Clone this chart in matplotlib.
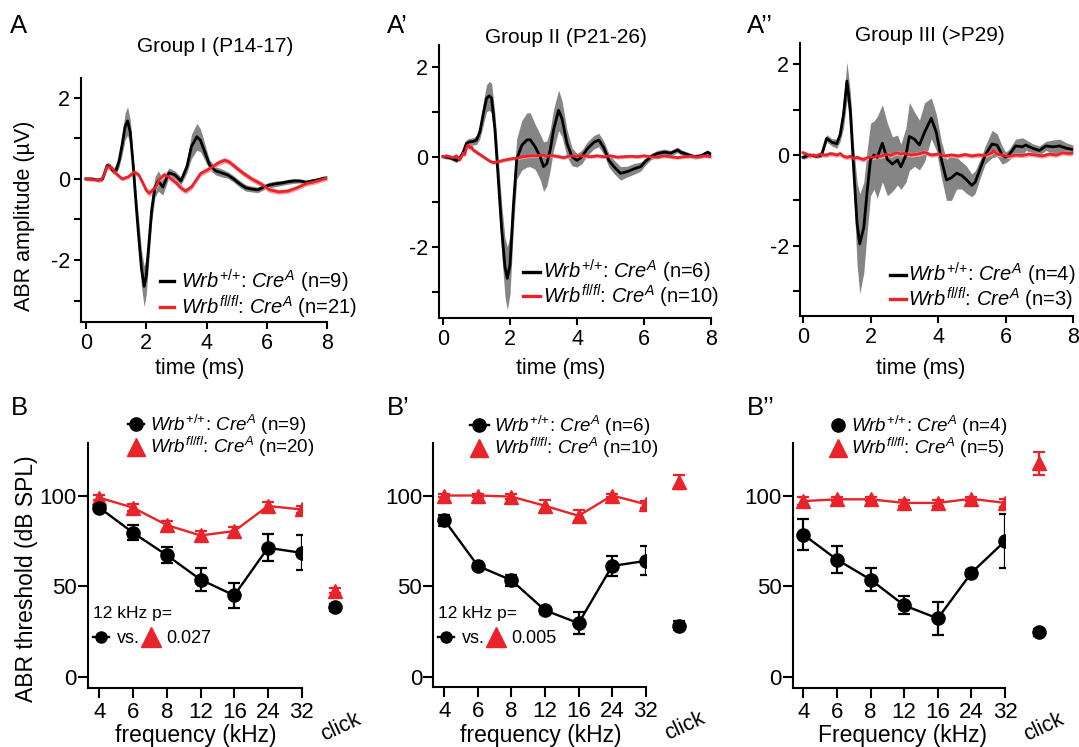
"""
ABR waveforms (top row) and ABR thresholds (bottom row) for the three age groups,
Wrb+/+: CreA controls vs Wrb fl/fl: CreA mutants.
"""

import numpy as np
import matplotlib.pyplot as plt
from matplotlib.lines import Line2D
from matplotlib.transforms import blended_transform_factory

plt.rcParams['font.family'] = ['Liberation Sans', 'DejaVu Sans']
plt.rcParams['mathtext.fontset'] = 'custom'
plt.rcParams['mathtext.rm'] = 'Liberation Sans'
plt.rcParams['mathtext.it'] = 'Liberation Sans:italic'
plt.rcParams['mathtext.bf'] = 'Liberation Sans:bold'

RED = '#e8232a'
GREY_BAND = '#858585'
PINK_BAND = '#f3a3a5'

# ---------------------------------------------------------------- waveform data
# rows are (time ms, mean amplitude uV, sem uV)
wave_ctrl_1 = [
    (0.0, 0.0, 0.04), (0.2, 0.0, 0.04), (0.4, -0.03, 0.04), (0.55, 0.0, 0.05),
    (0.7, 0.33, 0.08), (0.8, 0.3, 0.08), (0.9, 0.2, 0.08), (1.0, 0.22, 0.1),
    (1.1, 0.45, 0.15), (1.2, 0.85, 0.25), (1.3, 1.3, 0.33), (1.38, 1.43, 0.35),
    (1.47, 1.15, 0.3), (1.57, 0.3, 0.25), (1.66, -0.6, 0.3), (1.74, -1.35, 0.4),
    (1.84, -2.2, 0.45), (1.93, -2.65, 0.5), (2.0, -2.4, 0.45), (2.07, -1.76, 0.4),
    (2.18, -0.77, 0.3), (2.29, -0.2, 0.25), (2.4, -0.05, 0.25), (2.55, -0.2, 0.2),
    (2.75, 0.15, 0.12), (2.95, 0.1, 0.1), (3.15, -0.05, 0.1), (3.35, 0.3, 0.15),
    (3.5, 0.8, 0.3), (3.68, 1.04, 0.33), (3.8, 0.95, 0.28), (3.95, 0.65, 0.2),
    (4.1, 0.35, 0.12), (4.3, 0.2, 0.1), (4.5, 0.15, 0.1), (4.7, 0.1, 0.08),
    (4.9, 0.0, 0.08), (5.1, -0.12, 0.08), (5.3, -0.22, 0.08), (5.5, -0.25, 0.07),
    (5.7, -0.27, 0.07), (5.9, -0.2, 0.07), (6.1, -0.15, 0.07), (6.3, -0.12, 0.07),
    (6.5, -0.1, 0.06), (6.7, -0.07, 0.06), (6.9, -0.05, 0.06), (7.1, -0.05, 0.05),
    (7.3, -0.08, 0.05), (7.5, -0.05, 0.05), (7.7, -0.02, 0.05), (7.9, 0.02, 0.05),
    (8.0, 0.02, 0.05),
]
wave_ko_1 = [
    (0.0, 0.0, 0.04), (0.25, -0.02, 0.04), (0.5, -0.03, 0.05), (0.6, 0.1, 0.06),
    (0.7, 0.3, 0.07), (0.85, 0.28, 0.07), (1.0, 0.13, 0.06), (1.2, 0.0, 0.05),
    (1.4, 0.05, 0.05), (1.6, 0.17, 0.06), (1.75, 0.1, 0.06), (1.9, -0.12, 0.07),
    (2.0, -0.28, 0.08), (2.1, -0.35, 0.08), (2.3, -0.22, 0.08), (2.45, 0.0, 0.08),
    (2.6, 0.1, 0.08), (2.75, 0.05, 0.07), (3.0, -0.1, 0.07), (3.15, -0.22, 0.07),
    (3.3, -0.3, 0.07), (3.5, -0.2, 0.07), (3.8, 0.13, 0.07), (4.1, 0.25, 0.07),
    (4.4, 0.4, 0.07), (4.6, 0.46, 0.07), (4.75, 0.42, 0.07), (4.9, 0.33, 0.07),
    (5.2, 0.15, 0.07), (5.5, 0.0, 0.07), (5.8, -0.12, 0.07), (6.1, -0.27, 0.07),
    (6.4, -0.32, 0.06), (6.7, -0.3, 0.06), (7.0, -0.22, 0.06), (7.3, -0.12, 0.06),
    (7.6, -0.07, 0.06), (7.9, 0.0, 0.06), (8.0, 0.03, 0.06),
]

wave_ctrl_2 = [
    (0.0, 0.0, 0.04), (0.2, -0.02, 0.04), (0.4, -0.08, 0.05), (0.5, -0.03, 0.05),
    (0.6, 0.1, 0.07), (0.7, 0.3, 0.08), (0.8, 0.33, 0.08), (0.9, 0.34, 0.08),
    (1.0, 0.37, 0.1), (1.1, 0.55, 0.15), (1.2, 0.95, 0.25), (1.3, 1.3, 0.3),
    (1.38, 1.35, 0.32), (1.45, 1.3, 0.33), (1.55, 0.6, 0.35), (1.65, -0.5, 0.45),
    (1.75, -1.6, 0.55), (1.85, -2.45, 0.65), (1.92, -2.7, 0.7), (2.0, -2.4, 0.65),
    (2.1, -1.1, 0.5), (2.2, -0.05, 0.45), (2.35, 0.25, 0.55), (2.5, 0.37, 0.6),
    (2.6, 0.38, 0.6), (2.75, 0.22, 0.5), (2.9, 0.0, 0.5), (3.0, -0.22, 0.55),
    (3.1, -0.15, 0.5), (3.2, 0.15, 0.45), (3.3, 0.6, 0.45), (3.45, 1.03, 0.45),
    (3.55, 0.85, 0.4), (3.7, 0.3, 0.3), (3.85, 0.0, 0.2), (4.0, -0.08, 0.15),
    (4.15, 0.0, 0.15), (4.3, 0.17, 0.15), (4.5, 0.32, 0.15), (4.65, 0.37, 0.15),
    (4.8, 0.2, 0.15), (4.95, -0.08, 0.15), (5.1, -0.22, 0.15), (5.3, -0.37, 0.15),
    (5.5, -0.33, 0.12), (5.7, -0.27, 0.12), (5.9, -0.22, 0.1), (6.05, -0.1, 0.08),
    (6.2, 0.0, 0.07), (6.4, 0.07, 0.07), (6.6, 0.1, 0.07), (6.8, 0.08, 0.06),
    (7.0, 0.15, 0.06), (7.1, 0.1, 0.06), (7.3, 0.05, 0.05), (7.5, 0.0, 0.05),
    (7.7, 0.02, 0.05), (7.9, 0.1, 0.05), (8.0, 0.05, 0.05),
]
wave_ko_2 = [
    (0.0, 0.0, 0.04), (0.1, 0.02, 0.04), (0.2, 0.0, 0.04), (0.3, -0.02, 0.04),
    (0.4, 0.02, 0.04), (0.5, -0.07, 0.04), (0.55, 0.0, 0.04), (0.6, 0.08, 0.05),
    (0.65, 0.05, 0.05), (0.7, 0.2, 0.06), (0.75, 0.26, 0.06), (0.8, 0.2, 0.06),
    (0.85, 0.22, 0.06), (0.9, 0.15, 0.05), (1.0, 0.1, 0.05), (1.1, 0.05, 0.04),
    (1.2, 0.0, 0.04), (1.3, -0.05, 0.04), (1.4, -0.1, 0.04), (1.5, -0.13, 0.04),
    (1.6, -0.12, 0.04), (1.7, -0.1, 0.04), (1.8, -0.08, 0.04), (2.0, -0.05, 0.04),
    (2.2, -0.03, 0.04), (2.4, 0.0, 0.04), (2.6, 0.02, 0.04), (2.8, 0.02, 0.04),
    (3.0, 0.04, 0.04), (3.1, 0.0, 0.04), (3.2, 0.03, 0.04), (3.4, 0.01, 0.04),
    (3.6, -0.02, 0.04), (3.8, 0.02, 0.04), (4.0, 0.01, 0.04), (4.2, 0.02, 0.04),
    (4.4, 0.0, 0.04), (4.6, 0.02, 0.04), (4.8, 0.0, 0.04), (5.0, 0.02, 0.04),
    (5.2, -0.01, 0.04), (5.4, 0.0, 0.04), (5.6, 0.01, 0.04), (5.8, 0.0, 0.04),
    (6.0, 0.02, 0.04), (6.2, 0.0, 0.04), (6.4, -0.01, 0.04), (6.6, 0.02, 0.04),
    (6.8, 0.0, 0.04), (7.0, -0.02, 0.04), (7.2, 0.0, 0.04), (7.4, 0.01, 0.04),
    (7.6, -0.01, 0.04), (7.8, 0.02, 0.04), (8.0, 0.0, 0.04),
]

wave_ctrl_3 = [
    (0.0, -0.05, 0.05), (0.2, 0.0, 0.04), (0.4, -0.03, 0.04), (0.55, 0.0, 0.05),
    (0.7, 0.37, 0.08), (0.85, 0.28, 0.08), (1.0, 0.25, 0.1), (1.1, 0.45, 0.15),
    (1.2, 0.9, 0.3), (1.3, 1.63, 0.42), (1.4, 1.0, 0.4), (1.5, -0.3, 0.5),
    (1.6, -1.5, 0.9), (1.68, -1.96, 1.1), (1.8, -1.6, 1.0), (1.9, -0.8, 0.9),
    (2.0, -0.1, 0.8), (2.1, 0.0, 0.75), (2.2, -0.05, 0.9), (2.35, 0.26, 0.85),
    (2.5, -0.1, 0.8), (2.65, -0.2, 0.6), (2.8, -0.11, 0.55), (2.9, -0.26, 0.5),
    (3.05, 0.0, 0.6), (3.15, 0.41, 0.75), (3.3, 0.35, 0.6), (3.45, 0.22, 0.55),
    (3.6, 0.5, 0.65), (3.8, 0.81, 0.45), (3.95, 0.5, 0.4), (4.1, -0.1, 0.4),
    (4.25, -0.55, 0.45), (4.4, -0.5, 0.5), (4.55, -0.4, 0.35), (4.7, -0.45, 0.3),
    (4.85, -0.55, 0.3), (5.0, -0.67, 0.25), (5.1, -0.6, 0.25), (5.25, -0.3, 0.2),
    (5.4, 0.0, 0.2), (5.6, 0.24, 0.3), (5.75, 0.22, 0.25), (5.9, 0.0, 0.2),
    (6.0, -0.05, 0.12), (6.1, 0.0, 0.12), (6.3, 0.2, 0.15), (6.5, 0.18, 0.2),
    (6.6, 0.22, 0.12), (6.8, 0.15, 0.1), (7.0, 0.1, 0.1), (7.2, 0.2, 0.1),
    (7.4, 0.18, 0.15), (7.6, 0.2, 0.15), (7.8, 0.15, 0.12), (8.0, 0.12, 0.1),
]
wave_ko_3 = [
    (0.0, 0.05, 0.05), (0.1, 0.02, 0.05), (0.2, -0.02, 0.05), (0.3, 0.0, 0.05),
    (0.4, -0.02, 0.05), (0.5, 0.02, 0.05), (0.6, 0.0, 0.05), (0.7, 0.0, 0.05),
    (0.8, 0.03, 0.05), (0.9, 0.02, 0.05), (1.0, 0.0, 0.05), (1.1, 0.03, 0.05),
    (1.2, -0.03, 0.05), (1.3, -0.05, 0.05), (1.4, -0.03, 0.05), (1.5, -0.08, 0.05),
    (1.6, -0.05, 0.05), (1.7, -0.08, 0.05), (1.8, -0.1, 0.05), (1.9, -0.06, 0.05),
    (2.0, -0.04, 0.05), (2.1, -0.05, 0.05), (2.2, -0.02, 0.05), (2.3, -0.03, 0.05),
    (2.4, 0.0, 0.05), (2.5, 0.02, 0.05), (2.6, -0.01, 0.05), (2.7, 0.03, 0.05),
    (2.8, 0.05, 0.05), (2.9, 0.02, 0.05), (3.0, 0.04, 0.05), (3.2, 0.0, 0.05),
    (3.4, 0.02, 0.05), (3.6, 0.06, 0.05), (3.7, 0.03, 0.05), (3.8, 0.0, 0.05),
    (4.0, 0.02, 0.05), (4.2, -0.02, 0.05), (4.4, 0.0, 0.05), (4.6, -0.02, 0.05),
    (4.8, 0.01, 0.05), (5.0, -0.02, 0.05), (5.2, 0.0, 0.05), (5.4, -0.01, 0.05),
    (5.6, 0.05, 0.05), (5.65, 0.1, 0.05), (5.75, 0.02, 0.05), (5.9, 0.0, 0.05),
    (6.1, -0.03, 0.05), (6.3, 0.0, 0.05), (6.5, -0.01, 0.05), (6.7, 0.02, 0.05),
    (6.9, 0.0, 0.05), (7.1, -0.02, 0.05), (7.3, 0.02, 0.05), (7.5, 0.0, 0.05),
    (7.7, 0.05, 0.05), (7.9, 0.03, 0.05), (8.0, 0.05, 0.05),
]

# ---------------------------------------------------------------- threshold data
freq_labels = ['4', '6', '8', '12', '16', '24', '32']

thr_ctrl_1 = [93.4, 79.6, 67.2, 53.8, 45.1, 71.3, 68.5]
thr_ctrl_1_sem = [1.5, 4.0, 4.3, 6.2, 7.0, 7.4, 9.7]
thr_ko_1 = [98.9, 93.4, 83.8, 78.1, 80.5, 94.3, 92.4]
thr_ko_1_sem = [1.5, 2.0, 2.5, 2.5, 2.5, 2.0, 2.0]
click_1 = {'ctrl': (38.5, 2.0), 'ko': (47.7, 1.5)}

thr_ctrl_2 = [86.4, 61.1, 53.2, 36.6, 29.5, 61.1, 63.9]
thr_ctrl_2_sem = [3.0, 1.5, 3.0, 2.0, 6.0, 5.5, 8.0]
thr_ko_2 = [100.0, 100.0, 99.4, 94.3, 88.8, 100.0, 95.2]
thr_ko_2_sem = [1.0, 1.0, 1.5, 3.0, 3.0, 1.0, 2.0]
click_2 = {'ctrl': (28.0, 2.5), 'ko': (107.5, 3.7)}

thr_ctrl_3 = [78.6, 64.8, 53.8, 39.6, 32.4, 57.5, 75.0]
thr_ctrl_3_sem = [8.3, 7.4, 6.4, 5.0, 9.0, 1.5, 14.7]
thr_ko_3 = [97.0, 98.0, 98.0, 96.0, 96.0, 98.3, 96.0]
thr_ko_3_sem = [2.0, 1.0, 1.0, 1.5, 1.5, 1.0, 2.0]
click_3 = {'ctrl': (24.7, 2.0), 'ko': (117.8, 6.4)}

n_wave = [(9, 21), (6, 10), (4, 3)]
n_thr = [(9, 20), (6, 10), (4, 5)]
p_12khz = ['0.027', '0.005', None]


def ctrl_label(n):
    return r'$\mathit{Wrb}^{\mathrm{+/{+}}}$: $\mathit{Cre}^{\mathit{A}}$' + f' (n={n})'


def ko_label(n):
    return r'$\mathit{Wrb}^{\mathit{fl/fl}}$: $\mathit{Cre}^{\mathit{A}}$' + f' (n={n})'


# ---------------------------------------------------------------- layout helpers
W, H = 1079, 747
fig = plt.figure(figsize=(W / 100, H / 100), dpi=100)


def box(x0, y0, x1, y1):
    # pixel box (top-left origin) -> figure fraction rect
    return [x0 / W, 1 - y1 / H, (x1 - x0) / W, (y1 - y0) / H]


def fp(x, y):
    return x / W, 1 - y / H


def style_axes(ax, size):
    for side in ('top', 'right'):
        ax.spines[side].set_visible(False)
    for side in ('left', 'bottom'):
        ax.spines[side].set_linewidth(1.5)
    ax.tick_params(width=1.5, length=5, labelsize=size, pad=3)


# ---------------------------------------------------------------- top row
top_boxes = [(81, 78, 327, 322), (439, 45, 711, 318), (800, 43, 1073, 316)]
top_xlims = [(-0.166, 8), (-0.12, 8), (-0.09, 8)]
top_ylims = [(-3.53, 2.49), (-3.58, 2.48), (-3.55, 2.47)]
waves = [(wave_ctrl_1, wave_ko_1), (wave_ctrl_2, wave_ko_2), (wave_ctrl_3, wave_ko_3)]
titles = ['Group I (P14-17)', 'Group II (P21-26)', 'Group III (>P29)']
title_pos = [(215, 52), (566, 43), (930, 41)]
xlabel_pos = [(200, 374), (561, 374), (921, 374)]
top_leg = [((160, 294), 0.7, 0.36, -0.05), ((523, 284), 0.85, 0.15, -0.12),
           ((890, 287), 0.8, 0.08, -0.12)]

for i in range(3):
    ax = fig.add_axes(box(*top_boxes[i]))
    ctrl, ko = waves[i]
    t, m, s = np.array(ctrl).T
    ax.fill_between(t, m - s, m + s, color=GREY_BAND, lw=0)
    ax.plot(t, m, color='black', lw=2.0)
    t, m, s = np.array(ko).T
    ax.fill_between(t, m - s, m + s, color=PINK_BAND, lw=0)
    ax.plot(t, m, color=RED, lw=2.0)

    ax.set_xlim(*top_xlims[i])
    ax.set_ylim(*top_ylims[i])
    ax.set_xticks([0, 2, 4, 6, 8])
    ax.set_yticks([-3, -2, -1, 0, 1, 2])
    ax.set_yticklabels(['', '-2', '', '0', '', '2'])
    style_axes(ax, 15.5)

    (lx, ly), hl, htp, lsp = top_leg[i]
    handles = [Line2D([], [], color='black', lw=2.4), Line2D([], [], color=RED, lw=2.4)]
    ax.legend(handles, [ctrl_label(n_wave[i][0]), ko_label(n_wave[i][1])],
              loc='center left', bbox_to_anchor=fp(lx, ly),
              bbox_transform=fig.transFigure, frameon=False, fontsize=14.5,
              borderpad=0, borderaxespad=0, handlelength=hl,
              handletextpad=htp, labelspacing=lsp)

    fig.text(*fp(*title_pos[i]), titles[i], ha='center', va='baseline', fontsize=15)
    fig.text(*fp(*xlabel_pos[i]), 'time (ms)', ha='center', va='baseline', fontsize=15.5)

fig.text(*fp(25, 216), 'ABR amplitude (µV)', rotation=90, ha='center', va='center',
         fontsize=15.5)

# ---------------------------------------------------------------- bottom row
bot_boxes = [(88, 443, 301.7, 688), (433.3, 443, 645.7, 687.3), (792.7, 443, 1005, 688)]
bot_xleft = [-0.336, -0.33, -0.315]
thr_sets = [
    (thr_ctrl_1, thr_ctrl_1_sem, thr_ko_1, thr_ko_1_sem, click_1),
    (thr_ctrl_2, thr_ctrl_2_sem, thr_ko_2, thr_ko_2_sem, click_2),
    (thr_ctrl_3, thr_ctrl_3_sem, thr_ko_3, thr_ko_3_sem, click_3),
]
freq_xlabels = ['frequency (kHz)', 'frequency (kHz)', 'Frequency (kHz)']
freq_xlabel_pos = [(196, 742), (541, 742), (902, 742)]
# legend: (anchor px, handlelength, handletextpad, ctrl line shown)
bot_leg = [((128, 436), 0.85, 0.3, True), ((470, 437), 1.0, 0.3, True),
           ((828, 437), 1.1, 0.12, False)]
ann_pos = [(93, 606), (438, 606)]

x = np.arange(len(freq_labels))
for i in range(3):
    ax = fig.add_axes(box(*bot_boxes[i]))
    c_m, c_s, k_m, k_s, click = thr_sets[i]

    ax.errorbar(x, k_m, yerr=k_s, color=RED, lw=1.7, marker='^', ms=10.5,
                capsize=4.5, elinewidth=1.6, capthick=1.6, zorder=3)
    ax.errorbar(x, c_m, yerr=c_s, color='black', lw=1.7, marker='o', ms=9.5,
                capsize=4.5, elinewidth=1.6, capthick=1.6, zorder=4)

    click_x = len(freq_labels)
    for key, col, mk, ms in (('ko', RED, '^', 10.5), ('ctrl', 'black', 'o', 9.5)):
        cont = ax.errorbar([click_x], [click[key][0]], yerr=[click[key][1]],
                           color=col, marker=mk, ms=ms, capsize=4.5,
                           elinewidth=1.6, capthick=1.6, zorder=4)
        for art in cont.get_children():
            art.set_clip_on(False)

    ax.set_xlim(bot_xleft[i], 6)
    ax.set_ylim(-5.9, 129)
    ax.set_xticks(x)
    ax.set_xticklabels(freq_labels)
    ax.set_yticks([0, 50, 100])
    style_axes(ax, 16)
    ax.tick_params(axis='y', length=7, pad=1)
    ax.tick_params(axis='x', length=7, pad=3)

    trans = blended_transform_factory(ax.transData, ax.transAxes)
    ax.text(click_x + 0.15, -0.16, 'click', transform=trans, rotation=25,
            ha='center', va='center', fontsize=15.5, clip_on=False)

    (lx, ly), hl, htp, with_line = bot_leg[i]
    h_ctrl = Line2D([], [], color='black', lw=1.7 if with_line else 0,
                    marker='o', ms=9.5)
    h_ko = Line2D([], [], color=RED, lw=0, marker='^', ms=13)
    leg = ax.legend([h_ctrl, h_ko], [ctrl_label(n_thr[i][0]), ko_label(n_thr[i][1])],
                    loc='center left', bbox_to_anchor=fp(lx, ly),
                    bbox_transform=fig.transFigure, frameon=False, fontsize=13.5,
                    borderpad=0, borderaxespad=0, handlelength=hl,
                    handletextpad=htp, labelspacing=-0.1, numpoints=1)

    if p_12khz[i] is not None:
        ax.add_artist(leg)
        a_ctrl = Line2D([], [], color='black', lw=1.7, marker='o', ms=8)
        a_ko = Line2D([], [], color=RED, lw=0, marker='^', ms=14)
        ax.legend([a_ctrl, a_ko], ['vs.', p_12khz[i]], ncol=2,
                  title='12 kHz p=', title_fontsize=12.5, alignment='left',
                  loc='upper left', bbox_to_anchor=fp(*ann_pos[i]),
                  bbox_transform=fig.transFigure, frameon=False, fontsize=13,
                  borderpad=0, borderaxespad=0, handlelength=0.9,
                  handletextpad=0.4, columnspacing=0.2, numpoints=1)

    fig.text(*fp(*freq_xlabel_pos[i]), freq_xlabels[i], ha='center', va='baseline',
             fontsize=16.5)

fig.text(*fp(27, 579), 'ABR threshold (dB SPL)', rotation=90, ha='center',
         va='center', fontsize=16.5)

# ---------------------------------------------------------------- panel letters
letters = ['A', 'A’', 'A’’', 'B', 'B’', 'B’’']
letter_pos = [(10, 33), (387, 33), (747, 33), (11, 415), (387, 415), (747, 415)]
for lab, pos in zip(letters, letter_pos):
    fig.text(*fp(*pos), lab, ha='left', va='baseline', fontsize=18.5)

fig.savefig('out.png', dpi=100)
